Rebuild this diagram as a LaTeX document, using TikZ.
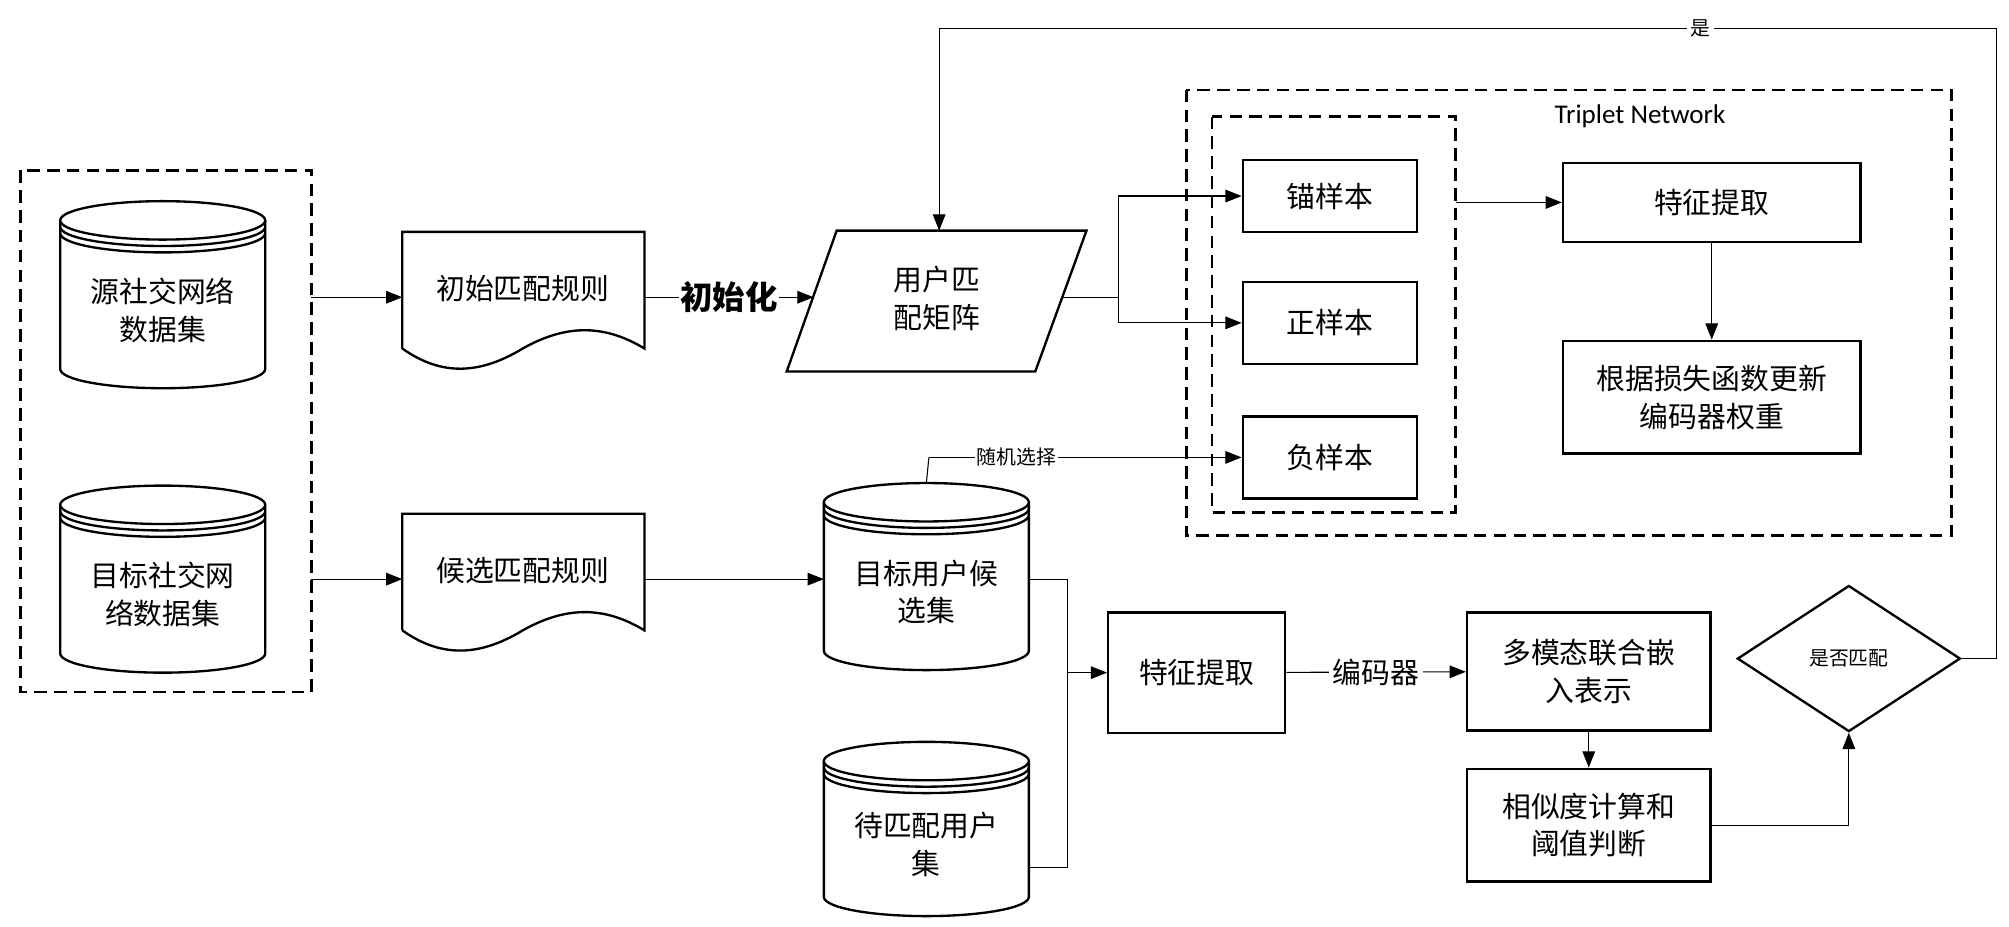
\documentclass[tikz,border=0pt]{standalone}
\usetikzlibrary{arrows.meta,shapes.geometric}
\usepackage{fontspec}
\setmainfont{Noto Sans CJK SC}
\newfontfamily\latinf{Carlito}
\begin{document}
\begin{tikzpicture}[x=0.025cm,y=-0.025cm,
  shp/.style={draw,line width=1.3pt,fill=white},
  con/.style={line width=0.6pt},
  arr/.style={con,-{Triangle[length=9pt,width=7pt]}},
  dbox/.style={draw,line width=1.3pt,dash pattern=on 7pt off 4pt},
  txt/.style={align=center,font=\fontsize{16}{21}\selectfont},
  stxt/.style={font=\fontsize{11}{13}\selectfont},
  bx/.style={shp,txt,inner sep=0pt}]
\useasboundingbox (0,0) rectangle (1568,723);
% cylinder macro
\newcommand\mycyl[7]{% name, cx, top, bottom, halfwidth, text, connector y
  \draw[shp] (#2-#5,#3) -- (#2-#5,#4) arc[start angle=180,end angle=0,x radius=#5,y radius=15] -- (#2+#5,#3);
  \draw[shp] (#2,#3) ellipse[x radius=#5,y radius=15];
  \draw[line width=1.3pt] (#2-#5,#3+5) arc[start angle=180,end angle=0,x radius=#5,y radius=15];
  \draw[line width=1.3pt] (#2-#5,#3+10) arc[start angle=180,end angle=0,x radius=#5,y radius=15];
  \node[txt] (#1) at (#2,{(#3+#4)/2+12}) {#6};
  \coordinate (#1-l) at (#2-#5,#7);
  \coordinate (#1-r) at (#2+#5,#7);
  \coordinate (#1-t) at (#2,#3-15);}
% left dashed group
\draw[dbox] (16,133) rectangle (243,540);
\mycyl{src}{127}{172}{288}{80}{源社交网络\\数据集}{232}
\mycyl{tgt}{127}{394}{510}{80}{目标社交网\\络数据集}{452}
\coordinate (g1) at (243,232); \coordinate (g2) at (243,452);
% documents
\draw[shp] (314,272) -- (314,181) -- (503,181) -- (503,272) .. controls (470,252) and (440,254) .. (408,272) .. controls (375,292) and (345,294) .. (314,272);
\node[txt] (doc1) at (408,225) {初始匹配规则};
\draw[shp] (314,492) -- (314,401) -- (503,401) -- (503,492) .. controls (470,472) and (440,474) .. (408,492) .. controls (375,512) and (345,514) .. (314,492);
\node[txt] (doc2) at (408,445) {候选匹配规则};
\coordinate (d1l) at (314,232); \coordinate (d1r) at (503,232);
\coordinate (d2l) at (314,452); \coordinate (d2r) at (503,452);
\draw[arr] (g1) -- (d1l);
\draw[arr] (g2) -- (d2l);
% parallelogram
\draw[shp] (653,180) -- (848,180) -- (808,290) -- (614,290) -- cycle;
\node[txt] (pm) at (731,233) {用户匹\\配矩阵};
\coordinate (pml) at (635,232); \coordinate (pmr) at (829,232); \coordinate (pmt) at (733,180);
\draw[arr] (d1r) -- node[fill=white,inner sep=1pt,font=\fontsize{18}{20}\selectfont\bfseries]{初始化} (pml);
% cylinders middle
\mycyl{cand}{723}{392}{508}{80}{目标用户候\\选集}{452}
\mycyl{wait}{723}{594}{700}{80}{待匹配用户\\集}{677}
\draw[arr] (d2r) -- (cand-l);
% triplet
\draw[dbox] (926,70) rectangle (1523,418);
\draw[dbox] (946,91) rectangle (1136,400);
\node[font=\latinf\fontsize{15}{17}\selectfont] (tn) at (1280,91) {Triplet Network};
\node[bx,minimum width=3.4cm,minimum height=1.4cm] (anc) at (1038,153) {锚样本};
\node[bx,minimum width=3.4cm,minimum height=1.6cm] (pos) at (1038,252) {正样本};
\node[bx,minimum width=3.4cm,minimum height=1.6cm] (neg) at (1038,357) {负样本};
\node[bx,minimum width=5.8cm,minimum height=1.55cm] (fe1) at (1336,158) {特征提取};
\node[bx,minimum width=5.8cm,minimum height=2.2cm] (upd) at (1336,310) {根据损失函数更新\\编码器权重};
\coordinate (inr) at (1136,158);
\draw[arr] (inr) -- (fe1);
\draw[arr] (fe1) -- (upd);
% branch from matrix
\coordinate (br) at (873,232);
\draw[con] (pmr) -- (br);
\draw[arr] (br) |- (anc);
\draw[arr] (br) |- (pos);
% random select
\coordinate (rs) at (725,357);
\draw[con] (cand-t) -- (rs);
\draw[arr] (rs) -- node[fill=white,inner sep=1pt,stxt,pos=0.28]{随机选择} (neg);
% bottom pipeline
\node[bx,minimum width=3.45cm,minimum height=2.35cm] (fe2) at (934,525) {特征提取};
\node[bx,minimum width=4.75cm,minimum height=2.3cm] (mm) at (1240,524) {多模态联合嵌\\入表示};
\node[bx,minimum width=4.75cm,minimum height=2.2cm] (sim) at (1240,644) {相似度计算和\\阈值判断};
\node[draw,line width=1.3pt,fill=white,diamond,aspect=1.55,minimum width=4.35cm,minimum height=2.85cm,inner sep=0pt,stxt] (dec) at (1443,514) {是否匹配};
\coordinate (j) at (833,525);
\draw[con] (cand-r) -| (j);
\draw[con] (wait-r) -| (j);
\draw[arr] (j) -- (fe2);
\draw[arr] (fe2) -- node[fill=white,inner sep=2pt,txt]{编码器} (mm);
\draw[arr] (mm) -- (sim);
\draw[arr] (sim.east) -| (dec.south);
% feedback
\coordinate (f1) at (1558,514);
\coordinate (f2) at (1558,22);
\coordinate (f3) at (733,22);
\draw[con] (dec.east) -- (f1) -- (f2) -- node[fill=white,inner sep=2pt,stxt,pos=0.28]{是} (f3);
\draw[arr] (f3) -- (pmt);
\end{tikzpicture}
\end{document}
